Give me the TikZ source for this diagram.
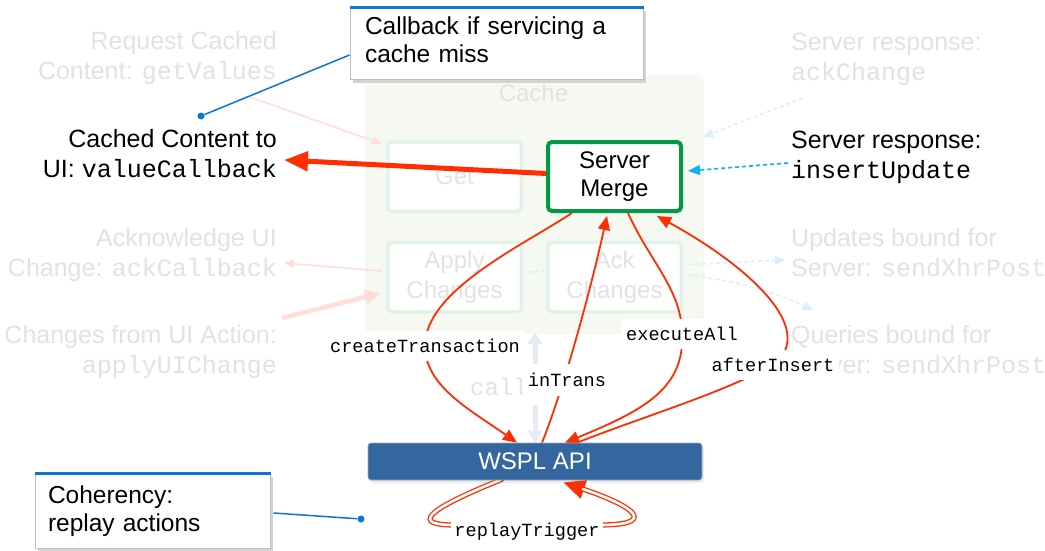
\documentclass[tikz,border=0pt]{standalone}
\usepackage{fontspec}
\setmainfont{Liberation Sans}
\setsansfont{Liberation Sans}
\setmonofont{Liberation Mono}
\usetikzlibrary{arrows.meta,calc,shadows}

\definecolor{linkred}{RGB}{255,45,0}
\definecolor{mergegreen}{RGB}{0,154,68}
\definecolor{fadetxt}{RGB}{226,226,226}
\definecolor{fadegreen}{RGB}{226,242,232}
\definecolor{cachefill}{RGB}{246,249,241}
\definecolor{fadepink}{RGB}{255,222,216}
\definecolor{fadeblue}{RGB}{218,240,252}
\definecolor{dotblue}{RGB}{16,174,245}
\definecolor{noteblue}{RGB}{12,118,210}
\definecolor{notegray}{RGB}{192,192,192}
\definecolor{apiblue}{RGB}{52,103,160}
\definecolor{cbgray}{RGB}{230,236,244}

\newcommand\mycode[1]{{\ttfamily #1}}

\pgfdeclarelayer{faded}
\pgfdeclarelayer{links}
\pgfsetlayers{faded,links,main}

\tikzset{
  big/.style={font=\fontsize{25}{30}\selectfont, inner sep=0pt},
  fadedlbl/.style={big, text=fadetxt},
  cachebox/.style={fill=cachefill, rounded corners=6pt, minimum width=337pt,
    minimum height=257pt, inner sep=0pt,
    drop shadow={opacity=0.07, shadow xshift=2pt, shadow yshift=-2pt}},
  fadebox/.style={draw=fadegreen, fill=white, line width=3.5pt, rounded corners=4pt,
    minimum width=133.5pt, minimum height=69.5pt, inner sep=0pt, text=fadetxt,
    font=\fontsize{24}{30}\selectfont, align=center},
  mergebox/.style={draw=mergegreen, fill=white, line width=4pt, rounded corners=4pt,
    minimum width=133pt, minimum height=69pt, inner sep=0pt,
    font=\fontsize{24}{28.5}\selectfont, align=center},
  apibox/.style={fill=apiblue, draw=gray!70, line width=0.6pt, rounded corners=3pt,
    minimum width=334pt, minimum height=37pt, text=white,
    font=\fontsize{24}{28}\selectfont,
    drop shadow={opacity=0.15, shadow xshift=2pt, shadow yshift=-3pt}},
  note/.style={draw=notegray, fill=white, line width=1pt, align=left,
    font=\fontsize{24.5}{28}\selectfont, inner ysep=0pt,
    drop shadow={opacity=1, fill=notegray!70, shadow xshift=3pt, shadow yshift=-3pt}},
  notebar/.style={draw=noteblue, line width=3.5pt},
  noteline/.style={draw=noteblue, line width=1.5pt},
  notedot/.style={circle, fill=noteblue, inner sep=0pt, minimum size=7pt},
  codelbl/.style={fill=white, font=\fontsize{18.6}{22}\ttfamily, inner xsep=5pt, inner ysep=8pt},
  link/.style={draw=linkred, line width=1.8pt},
  linkhead/.style={-{Triangle[length=14pt,width=12pt]}},
  replayouter/.style={draw=linkred, line width=5.2pt, line cap=round},
  replayinner/.style={draw=white, line width=2.6pt, line cap=round,
    shorten <=1.6pt, shorten >=21pt},
  bluedot/.style={draw=dotblue, line width=1.6pt, dash pattern=on 4pt off 3pt,
    -{Triangle[length=12pt,width=10pt]}},
  fadearrow/.style={draw=fadepink, line width=1.5pt, -{Triangle[length=10pt,width=8pt]}},
  fadearrowthick/.style={draw=fadepink, line width=4.5pt, -{Triangle[length=16pt,width=14pt]}},
  fadedot/.style={draw=fadeblue, line width=1.6pt, dash pattern=on 4pt off 3pt,
    -{Triangle[length=10pt,width=9pt]}},
  cbarrow/.style={draw=cbgray, line width=5pt,
    {Triangle[length=12pt,width=14pt]}-{Triangle[length=12pt,width=14pt]}},
  cblbl/.style={fill=white, text=fadetxt, font=\fontsize{24}{28}\ttfamily,
    inner xsep=2pt, inner ysep=10pt},
}

\begin{document}
\begin{tikzpicture}[x=1pt,y=-1pt]
\useasboundingbox (0,0) rectangle (1045,551);

% ---------- main components ----------
\node[mergebox] (merge) at (614.5,176.5) {Server\\Merge};
\node[apibox] (api) at (535,461.5) {WSPL API};

% multi-line labels are anchored on the baseline of their last line
\node[big, anchor=base east, align=right] (valuecb) at (277,177)
  {Cached Content to\\UI: \mycode{valueCallback}};
\node[big, anchor=base west, align=left] (insupd) at (791,178)
  {Server response:\\\mycode{insertUpdate}};

% call labels on the red connectors
\node[codelbl] (ctlbl) at (425,346) {createTransaction};
\node[codelbl, inner ysep=9pt] (itlbl) at (567,380) {inTrans};
\node[codelbl] (ealbl) at (682,334) {executeAll};
\node[codelbl] (ailbl) at (773,365) {afterInsert};
\node[codelbl, inner xsep=3pt, inner ysep=2pt] (rtlbl) at (527,532) {replayTrigger};

% notes
\node[note, minimum width=293pt, minimum height=72pt, text width=263pt, inner xsep=15pt]
  (missnote) at (496.5,44) {Callback if servicing a\\cache miss\strut};
\draw[notebar] (missnote.north west) -- (missnote.north east);
\node[notedot] (missdot) at (201,116) {};
\draw[noteline] ($(missnote.west)+(0,11)$) -- (missdot);

\node[note, minimum width=235pt, minimum height=74pt, text width=209pt, inner xsep=13pt]
  (replaynote) at (152.5,511) {Coherency:\\replay actions};
\draw[notebar] (replaynote.north west) -- (replaynote.north east);
\node[notedot] (replaydot) at (361,519) {};
\draw[noteline] ($(replaynote.east)+(3,2)$) -- (replaydot);

\coordinate (vctip) at (284,160);
\coordinate (insstart) at (788,163);

% ---------- faded background parts ----------
\begin{pgfonlayer}{faded}
\fill[white] (0,0) rectangle (1045,551);
\node[cachebox] (cache) at (533.5,203.5) {};
\node[fadedlbl, font=\fontsize{24}{28}\selectfont, anchor=base] (cachetitle) at (533.5,102) {Cache};

\node[fadebox] (get) at (454.5,176.5) {Get};
\node[fadebox] (apply) at (454.5,277) {Apply\\Changes};

\coordinate (updtip) at (785,260);
\coordinate (qrytip) at (813,310);
\draw[fadedot] ($(apply.east)+(4,-5)$) -- (updtip);
\draw[fadedot] ($(apply.east)+(4,-5)$) .. controls (680,262) and (760,285) .. (qrytip);

\node[fadebox] (ack) at (614.5,277) {Ack\\Changes};

\node[fadedlbl, anchor=base east, align=right] (getvalues) at (277,80)
  {Request Cached\\Content: \mycode{getValues}};
\node[fadedlbl, anchor=base east, align=right] (ackcb) at (277,276)
  {Acknowledge UI\\Change: \mycode{ackCallback}};
\node[fadedlbl, anchor=base east, align=right] (uichange) at (277,373)
  {Changes from UI Action:\\\mycode{applyUIChange}};
\node[fadedlbl, anchor=base west, align=left] (ackchange) at (791,81)
  {Server response:\\\mycode{ackChange}};
\node[fadedlbl, anchor=base west, align=left] (updates) at (791,276)
  {Updates bound for\\Server: \mycode{sendXhrPost}};
\node[fadedlbl, anchor=base west, align=left] (queries) at (791,373)
  {Queries bound for\\Server: \mycode{sendXhrPost}};

\coordinate (gvtail) at (250,97);
\coordinate (ackcbtip) at (284,263);
\coordinate (uitail) at (282,318);
\coordinate (acktail) at (803,98);
\draw[fadearrow] (gvtail) -- ($(get.north west)+(-4,4)$);
\draw[fadearrow] ($(apply.west)+(-4,-6)$) -- (ackcbtip);
\draw[fadearrowthick] (uitail) -- ($(apply.west)+(-5,16)$);
\draw[fadedot] (acktail) -- ($(cache.north east)+(1,62)$);

\draw[cbarrow] (cache.south -| api.north) -- (api.north);
\node[cblbl, anchor=base] (cblabel) at (535,395) {callbacks};
\end{pgfonlayer}

% ---------- red call connectors ----------
\begin{pgfonlayer}{links}
\draw[link, line width=5pt, -{Triangle[length=24pt,width=19pt]}]
  ($(merge.west)+(0,-3)$) -- (vctip);
\draw[bluedot] (insstart) -- ($(merge.east)+(5,-5.5)$);

\draw[link, linkhead] ($(merge.south)+(-42.5,0)$)
  .. controls +(-52,34) and +(0,-55) .. (ctlbl.center)
  .. controls +(0,40) and +(-47,-33) .. ($(api.north)+(-18,0)$);
\draw[link, linkhead] ($(api.north)+(7,0)$)
  .. controls +(23,-58) and +(-17,76) .. ($(merge.south)+(-7.5,3)$);
\draw[link, linkhead] ($(merge.south)+(13.5,0)$)
  .. controls +(22,49) and +(0,-44) .. (ealbl.center)
  .. controls +(3,56) and +(75,-31) .. ($(api.north)+(30,0)$);
\draw[link, linkhead] ($(api.north)+(42,0)$)
  .. controls +(63,-25) and +(-53,29) .. (ailbl.center)
  .. controls +(47,-36) and +(88,48) .. ($(merge.south)+(42.5,3)$);

% replay loop: red outline with a white core, ending in a solid head
\def\replaypath{($(api.south)+(-33,-1)$)
  .. controls +(-82,33) and +(-40,0) .. ($(rtlbl.west)+(3,-7)$)
  -- ($(rtlbl.east)+(-3,-7)$)
  .. controls +(55,0) and +(77,26) .. ($(api.south)+(28,2)$)}
\draw[replayouter, -{Triangle[length=22pt,width=18pt]}] \replaypath;
\draw[replayinner] \replaypath;
\end{pgfonlayer}
\end{tikzpicture}
\end{document}
